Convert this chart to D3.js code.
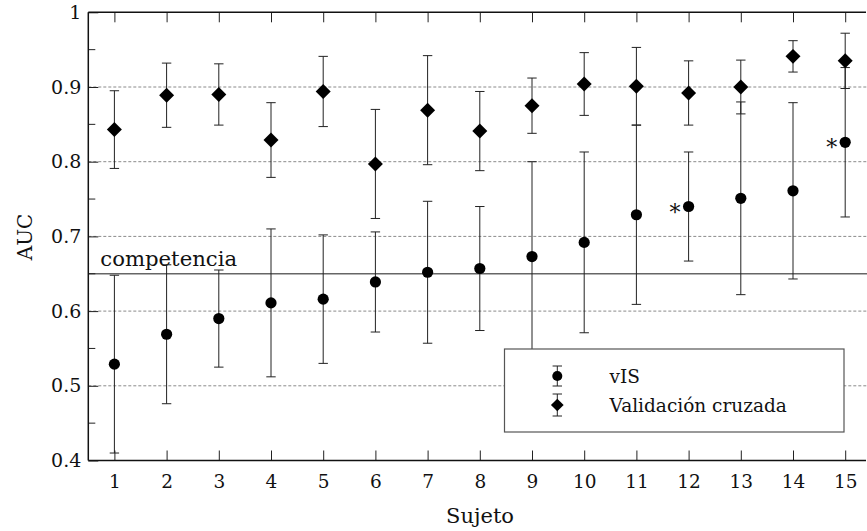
<!DOCTYPE html>
<html>
<head>
<meta charset="utf-8">
<script src="https://cdn.jsdelivr.net/npm/d3@7"></script>
<style>
  html, body { margin: 0; padding: 0; background: #fff; }
  svg { display: block; }
  text { font-family: "DejaVu Serif", serif; fill: #111; }
</style>
</head>
<body>
<svg id="chart" width="867" height="531"></svg>
<script>
// Subjects on the x axis
const subjects = [1, 2, 3, 4, 5, 6, 7, 8, 9, 10, 11, 12, 13, 14, 15];

// vIS: AUC mean and error half-width per subject
const visMean = [0.529, 0.569, 0.590, 0.611, 0.616, 0.639, 0.652, 0.657, 0.673, 0.692, 0.729, 0.740, 0.751, 0.761, 0.826];
const visErr  = [0.119, 0.093, 0.065, 0.099, 0.086, 0.067, 0.095, 0.083, 0.127, 0.121, 0.120, 0.073, 0.129, 0.118, 0.100];

// Cross-validation: AUC mean and error half-width per subject
const cvMean = [0.843, 0.889, 0.890, 0.829, 0.894, 0.797, 0.869, 0.841, 0.875, 0.904, 0.901, 0.892, 0.900, 0.941, 0.935];
const cvErr  = [0.052, 0.043, 0.041, 0.050, 0.047, 0.073, 0.073, 0.053, 0.037, 0.042, 0.052, 0.043, 0.036, 0.021, 0.037];

// Subjects marked with an asterisk next to the vIS point
const marked = [12, 15];

// Competence threshold
const competencia = 0.65;

// Axis ticks
const yMajor = [0.4, 0.5, 0.6, 0.7, 0.8, 0.9, 1];
const yMinor = [0.45, 0.55, 0.65, 0.75, 0.85, 0.95];
const yTickLabels = ["0.4", "0.5", "0.6", "0.7", "0.8", "0.9", "1"];

const legendLabels = ["vIS", "Validación cruzada"];

const svg = d3.select("#chart");
const W = 867;

const x = d3.scaleLinear().domain([0.5, 15.5]).range([88.3, 88.3 + 15 * 52.2]);
const y = d3.scaleLinear().domain([0.4, 1]).range([460.5, 12.3]);

const plotLeft = x(0.5), plotTop = y(1), plotBottom = y(0.4);

// dashed grid lines
svg.append("g").selectAll("line")
  .data(yMajor.filter(v => v > 0.4 && v < 1))
  .join("line")
  .attr("x1", plotLeft).attr("x2", W)
  .attr("y1", d => y(d)).attr("y2", d => y(d))
  .attr("stroke", "#8a8a8a").attr("stroke-width", 1)
  .attr("stroke-dasharray", "3,2");

// competence line
svg.append("line")
  .attr("x1", plotLeft).attr("x2", W)
  .attr("y1", y(competencia)).attr("y2", y(competencia))
  .attr("stroke", "#666").attr("stroke-width", 1.3);
svg.append("text")
  .attr("x", plotLeft + 12).attr("y", y(competencia) - 7.5)
  .attr("font-size", 21.2).text("competencia");

// axes
const axisG = svg.append("g");
const yAxis = d3.axisLeft(y).tickValues(yMajor).tickFormat((d, i) => yTickLabels[i]).tickSize(-10).tickPadding(7);
const yg = axisG.append("g").attr("transform", `translate(${plotLeft},0)`).call(yAxis);
yg.select(".domain").remove();
yg.selectAll("line").attr("stroke", "#222");
yg.selectAll("text").attr("font-size", 19).attr("font-family", "DejaVu Serif").attr("fill", "#111");

// minor y ticks
axisG.append("g").selectAll("line").data(yMinor).join("line")
  .attr("x1", plotLeft).attr("x2", plotLeft + 7)
  .attr("y1", d => y(d)).attr("y2", d => y(d))
  .attr("stroke", "#222");

const xAxis = d3.axisBottom(x).tickValues(subjects).tickFormat(d3.format("d")).tickSize(-10).tickPadding(14);
const xg = axisG.append("g").attr("transform", `translate(0,${plotBottom})`).call(xAxis);
xg.select(".domain").remove();
xg.selectAll("line").attr("stroke", "#222");
xg.selectAll("text").attr("font-size", 18.5).attr("font-family", "DejaVu Serif").attr("fill", "#111");

const xTop = d3.axisTop(x).tickValues(subjects).tickFormat("").tickSize(-10);
const xt = axisG.append("g").attr("transform", `translate(0,${plotTop})`).call(xTop);
xt.select(".domain").remove();
xt.selectAll("line").attr("stroke", "#222");

// frame lines (left, top, bottom)
axisG.append("line").attr("x1", plotLeft).attr("x2", plotLeft).attr("y1", plotTop).attr("y2", plotBottom)
  .attr("stroke", "#111").attr("stroke-width", 1.5);
axisG.append("line").attr("x1", plotLeft).attr("x2", W - 1).attr("y1", plotTop).attr("y2", plotTop)
  .attr("stroke", "#111").attr("stroke-width", 1.5);
axisG.append("line").attr("x1", plotLeft).attr("x2", W - 1).attr("y1", plotBottom).attr("y2", plotBottom)
  .attr("stroke", "#111").attr("stroke-width", 1.5);

// axis titles
svg.append("text").attr("x", 480).attr("y", 523).attr("text-anchor", "middle")
  .attr("font-size", 21).text("Sujeto");
svg.append("text").attr("transform", "translate(32,237) rotate(-90)").attr("text-anchor", "middle")
  .attr("font-size", 20).text("AUC");

// error bars
const cap = 4.7;
function errorBars(g, means, errs) {
  const d = subjects.map((s, i) => ({ s, lo: means[i] - errs[i], hi: means[i] + errs[i] }));
  const eg = g.append("g").attr("stroke", "#222").attr("stroke-width", 1);
  eg.selectAll(".v").data(d).join("line")
    .attr("x1", e => x(e.s)).attr("x2", e => x(e.s))
    .attr("y1", e => y(e.lo)).attr("y2", e => y(e.hi));
  eg.selectAll(".t").data(d).join("line")
    .attr("x1", e => x(e.s) - cap).attr("x2", e => x(e.s) + cap)
    .attr("y1", e => y(e.hi)).attr("y2", e => y(e.hi));
  eg.selectAll(".b").data(d).join("line")
    .attr("x1", e => x(e.s) - cap).attr("x2", e => x(e.s) + cap)
    .attr("y1", e => y(e.lo)).attr("y2", e => y(e.lo));
}

const marks = svg.append("g");
errorBars(marks, visMean, visErr);
errorBars(marks, cvMean, cvErr);

const circleSym = d3.symbol().type(d3.symbolCircle).size(Math.PI * 5.6 * 5.6);
const diamondSym = d3.symbol().type(d3.symbolSquare).size(10.6 * 10.6);

marks.append("g").selectAll("path").data(subjects).join("path")
  .attr("d", circleSym)
  .attr("transform", (s, i) => `translate(${x(s)},${y(visMean[i])})`)
  .attr("fill", "#000");

marks.append("g").selectAll("path").data(subjects).join("path")
  .attr("d", diamondSym)
  .attr("transform", (s, i) => `translate(${x(s)},${y(cvMean[i])}) rotate(45)`)
  .attr("fill", "#000");

// asterisks
marks.append("g").selectAll("text").data(marked).join("text")
  .attr("x", s => x(s) - 8)
  .attr("y", s => y(visMean[s - 1]) + 13)
  .attr("text-anchor", "end")
  .attr("font-size", 22)
  .text("*");

// legend
const lg = svg.append("g");
lg.append("rect").attr("x", 504.5).attr("y", 349).attr("width", 339.5).attr("height", 83)
  .attr("fill", "#fff").attr("stroke", "#555").attr("stroke-width", 1.2);
const lx = 557.3;
const legendRows = [
  { yc: 376, lo: 386, hi: 366, sym: circleSym, rot: 0, scale: 0.9 },
  { yc: 405, lo: 416, hi: 394, sym: diamondSym, rot: 45, scale: 0.85 }
];
legendRows.forEach((r, i) => {
  lg.append("line").attr("x1", lx).attr("x2", lx).attr("y1", r.lo).attr("y2", r.hi).attr("stroke", "#222");
  lg.append("line").attr("x1", lx - cap).attr("x2", lx + cap).attr("y1", r.lo).attr("y2", r.lo).attr("stroke", "#222");
  lg.append("line").attr("x1", lx - cap).attr("x2", lx + cap).attr("y1", r.hi).attr("y2", r.hi).attr("stroke", "#222");
  lg.append("path").attr("d", r.sym)
    .attr("transform", `translate(${lx},${r.yc}) rotate(${r.rot}) scale(${r.scale})`)
    .attr("fill", "#000");
  lg.append("text").attr("x", 609.5).attr("y", r.yc + 7).attr("font-size", 18.5).text(legendLabels[i]);
});
</script>
</body>
</html>
